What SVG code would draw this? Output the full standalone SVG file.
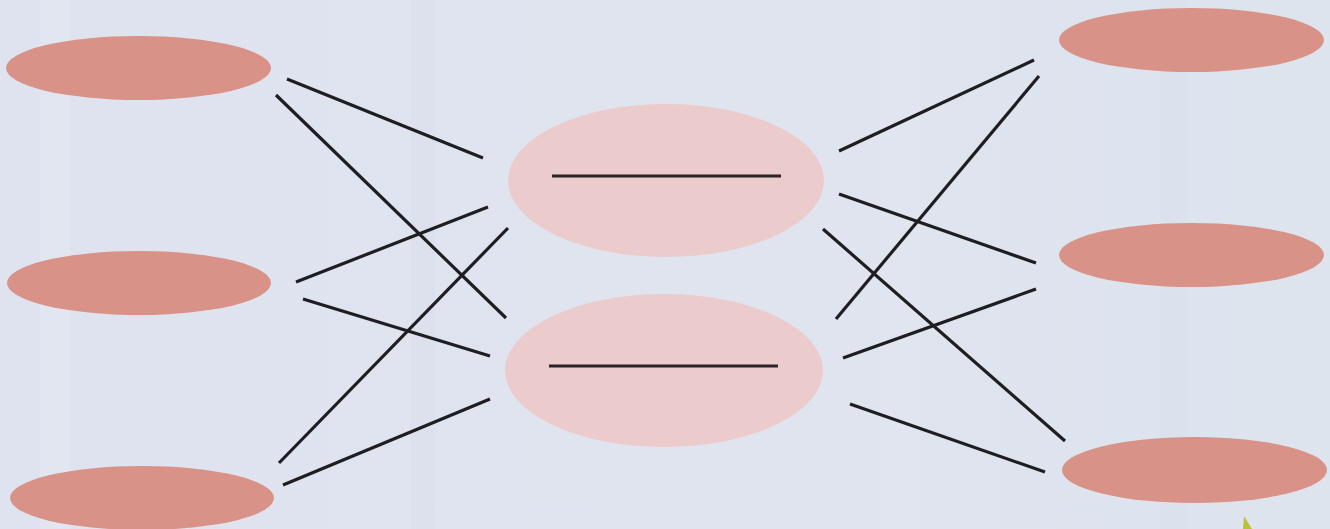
<svg xmlns="http://www.w3.org/2000/svg" width="1330" height="529" viewBox="0 0 1330 529">
  <style>
    .outer { fill: #d99287; }
    .inner { fill: #ebcbcc; }
    .bar { stroke: #2a2426; stroke-width: 3; }
    .link { stroke: #1e1e22; stroke-width: 3.2; stroke-linecap: butt; }
  </style>
  <defs>
    <linearGradient id="bg" x1="0" y1="0" x2="1" y2="0">
      <stop offset="0" stop-color="#dfe3ef"/>
      <stop offset="0.5" stop-color="#e0e4ef"/>
      <stop offset="1" stop-color="#dde4ee"/>
    </linearGradient>
  </defs>

  <!-- backdrop -->
  <rect width="1330" height="529" fill="url(#bg)"/>
  <g opacity="0.35">
    <rect x="40" y="0" width="30" height="529" fill="#e9ecf4"/>
    <rect x="410" y="0" width="25" height="529" fill="#d6dcea"/>
    <rect x="880" y="0" width="40" height="529" fill="#e6e8f2"/>
    <rect x="1160" y="0" width="28" height="529" fill="#d8dfeb"/>
  </g>

  <!-- left column -->
  <g id="left-1"><ellipse class="outer" cx="138.5" cy="68" rx="132.5" ry="32"/></g>
  <g id="left-2"><ellipse class="outer" cx="139" cy="283" rx="132" ry="32"/></g>
  <g id="left-3"><ellipse class="outer" cx="142" cy="498" rx="132" ry="32"/></g>

  <!-- middle column -->
  <g id="center-1">
    <ellipse class="inner" cx="666" cy="180.5" rx="158" ry="76.5"/>
    <line class="bar" x1="552" y1="176" x2="781" y2="176"/>
  </g>
  <g id="center-2">
    <ellipse class="inner" cx="664" cy="370.5" rx="159" ry="76.5"/>
    <line class="bar" x1="549" y1="366" x2="778" y2="366"/>
  </g>

  <!-- right column -->
  <g id="right-1"><ellipse class="outer" cx="1191.5" cy="40" rx="132.5" ry="32"/></g>
  <g id="right-2"><ellipse class="outer" cx="1191.5" cy="255" rx="132.5" ry="32"/></g>
  <g id="right-3"><ellipse class="outer" cx="1194.5" cy="470" rx="132.5" ry="33"/></g>

  <!-- connectors -->
  <g id="connectors">
    <line class="link" x1="287" y1="79" x2="483" y2="158"/>
    <line class="link" x1="276" y1="95" x2="506" y2="318"/>
    <line class="link" x1="296" y1="282" x2="488" y2="207"/>
    <line class="link" x1="303" y1="299" x2="490" y2="356"/>
    <line class="link" x1="279" y1="463" x2="508" y2="228"/>
    <line class="link" x1="283" y1="485" x2="490" y2="399"/>
    <line class="link" x1="839" y1="151" x2="1034" y2="60"/>
    <line class="link" x1="836" y1="319" x2="1039" y2="76"/>
    <line class="link" x1="839" y1="194" x2="1036" y2="263"/>
    <line class="link" x1="823" y1="229" x2="1065" y2="441"/>
    <line class="link" x1="843" y1="358" x2="1036" y2="289"/>
    <line class="link" x1="850" y1="404" x2="1045" y2="472"/>
  </g>

  <!-- small leaf tip at the lower edge -->
  <polygon points="1244,516 1252,529 1243,529" fill="#b9c23a"/>
</svg>
